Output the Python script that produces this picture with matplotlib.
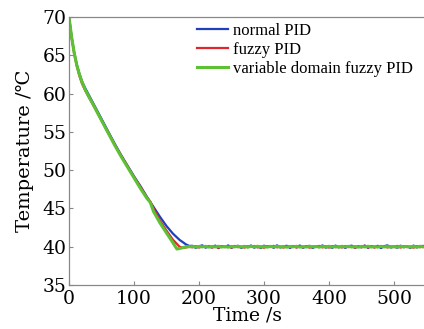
import numpy as np
import matplotlib.pyplot as plt

plt.rcParams['font.family'] = ['DejaVu Serif']

# descent part (time in s, temperature in degC)
t_normal = [0, 4, 8, 12, 16, 20, 25, 30, 40, 50, 60, 70, 80, 90, 100, 110, 120, 130,
            140, 150, 160, 170, 180, 185]
y_normal = [70, 67.4, 65.4, 63.8, 62.6, 61.6, 60.7, 59.9, 58.3, 56.7, 55.1, 53.5,
            52.0, 50.6, 49.2, 47.9, 46.5, 45.2, 43.9, 42.7, 41.7, 40.9, 40.3, 40.1]
t_fuzzy = [0, 4, 8, 12, 16, 20, 25, 30, 40, 50, 60, 70, 80, 90, 100, 110, 120, 125,
           130, 140, 150, 160, 170, 175, 180, 185]
y_fuzzy = [70, 67.3, 65.2, 63.6, 62.3, 61.3, 60.4, 59.6, 58.1, 56.5, 54.9, 53.4,
           51.9, 50.5, 49.1, 47.8, 46.4, 45.9, 45.0, 43.4, 42.1, 40.9, 40.0, 39.85,
           39.9, 40.0]
t_vdf = [0, 4, 8, 12, 16, 20, 25, 30, 40, 50, 60, 70, 80, 90, 100, 110, 120, 125,
         130, 140, 150, 160, 166, 172, 180, 185]
y_vdf = [70, 67.4, 65.3, 63.7, 62.5, 61.5, 60.5, 59.7, 58.1, 56.5, 54.9, 53.3,
         51.8, 50.4, 49.0, 47.6, 46.3, 45.8, 44.6, 43.1, 41.8, 40.5, 39.7, 39.8,
         40.0, 40.0]

# steady part, one sample every 5 s starting at 190 s
ss_normal = [40.12, 39.85, 40.05, 40.18, 39.88, 40.02, 39.90, 40.15, 39.82, 40.08,
             39.95, 40.17, 39.86, 40.04, 40.12, 39.84, 40.10, 39.93, 40.16, 39.87,
             40.06, 39.83, 40.14, 39.96, 40.09, 39.85, 40.18, 39.90, 40.03, 40.13,
             39.84, 40.07, 39.92, 40.16, 39.86, 40.05, 40.11, 39.83, 40.08, 39.94,
             40.17, 39.88, 40.02, 39.85, 40.15, 39.91, 40.10, 39.84, 40.06, 40.14,
             39.87, 40.03, 39.92, 40.16, 39.85, 40.09, 39.95, 40.12, 39.83, 40.07,
             40.18, 39.89, 40.01, 39.86, 40.13, 39.93, 40.08, 39.84, 40.15, 39.90,
             40.05, 40.11, 39.87]
ss_fuzzy = [39.92, 40.08, 39.88, 40.05, 39.95, 40.10, 39.90, 40.03, 39.87, 40.09,
            39.94, 40.06, 39.89, 40.11, 39.93, 40.02, 39.88, 40.07, 39.96, 40.10,
            39.90, 40.04, 39.86, 40.08, 39.95, 40.12, 39.91, 40.03, 39.88, 40.06,
            39.94, 40.10, 39.89, 40.05, 39.92, 40.08, 39.87, 40.04, 39.95, 40.11,
            39.90, 40.06, 39.88, 40.09, 39.93, 40.03, 39.89, 40.10, 39.94, 40.05,
            39.87, 40.08, 39.92, 40.12, 39.90, 40.04, 39.88, 40.07, 39.95, 40.09,
            39.89, 40.05, 39.93, 40.11, 39.88, 40.06, 39.94, 40.03, 39.87, 40.08,
            39.92, 40.05, 39.90]
ss_vdf = [40.02, 39.96, 40.04, 39.98, 40.05, 39.95, 40.03, 39.97, 40.06, 39.96,
          40.02, 39.94, 40.04, 39.98, 40.05, 39.96, 40.03, 39.95, 40.04, 39.98,
          40.06, 39.96, 40.02, 39.95, 40.04, 39.97, 40.05, 39.96, 40.03, 39.94,
          40.04, 39.98, 40.06, 39.95, 40.02, 39.96, 40.05, 39.97, 40.03, 39.95,
          40.04, 39.96, 40.06, 39.97, 40.02, 39.95, 40.04, 39.98, 40.05, 39.96,
          40.03, 39.94, 40.04, 39.97, 40.06, 39.96, 40.02, 39.95, 40.05, 39.97,
          40.03, 39.96, 40.04, 39.95, 40.05, 39.98, 40.03, 39.96, 40.04, 39.95,
          40.06, 39.97, 40.03]

def series(t, y, ss):
    ts = 190 + 5 * np.arange(len(ss))
    return np.concatenate([t, ts]), np.concatenate([y, ss])

fig = plt.figure(figsize=(4.24, 3.29), dpi=100)
ax = fig.add_axes([69 / 424, 44 / 329, 357.5 / 424, 268 / 329])

x, y = series(t_normal, y_normal, ss_normal)
ax.plot(x, y, color='#1f3fbf', lw=1.6, label='normal PID')
x, y = series(t_fuzzy, y_fuzzy, ss_fuzzy)
ax.plot(x, y, color='#e0262b', lw=1.6, label='fuzzy PID')
x, y = series(t_vdf, y_vdf, ss_vdf)
ax.plot(x, y, color='#5cc133', lw=2.2, label='variable domain fuzzy PID')

ax.set_xlim(0, 550)
ax.set_ylim(35, 70)
ax.set_xticks([0, 100, 200, 300, 400, 500])
ax.set_yticks([35, 40, 45, 50, 55, 60, 65, 70])
ax.tick_params(direction='in', length=3, color='#888888', labelsize=13.5, pad=2)
ax.tick_params(axis='x', pad=3.5)
for s in ax.spines.values():
    s.set_color('#888888')
    s.set_linewidth(0.9)
ax.set_xlabel('Time /s', fontsize=13.5, labelpad=-1)
ax.set_ylabel('Temperature /℃', fontsize=14, labelpad=6)

leg = ax.legend(loc='upper right', bbox_to_anchor=(1.005, 1.035), frameon=False,
                handlelength=1.9, handletextpad=0.3, labelspacing=0.2,
                prop={'family': ['Liberation Serif', 'DejaVu Serif'], 'size': 12})

fig.savefig('out.png', dpi=100)
